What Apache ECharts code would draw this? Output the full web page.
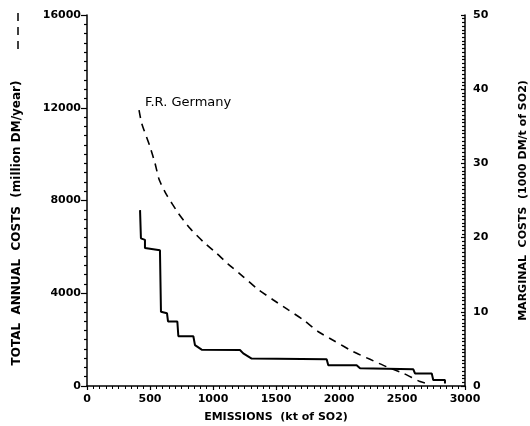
<!DOCTYPE html>
<html>
<head>
<meta charset="utf-8">
<script src="https://cdn.jsdelivr.net/npm/echarts@6/dist/echarts.min.js"></script>
<style>
html, body { margin: 0; padding: 0; background: #fff; }
#main { width: 530px; height: 426px; }
</style>
</head>
<body>
<div id="main"></div>
<script>
// total annual costs (dashed, left axis)
var totalEmissions = [413, 434, 500, 540, 574, 632, 725, 817, 923, 1029, 1120, 1241, 1347, 1479, 1598, 1717, 1836, 1960, 2113, 2246, 2378, 2510, 2643, 2696];
var totalCosts = [11900, 11330, 10320, 9600, 8880, 8240, 7450, 6800, 6220, 5720, 5260, 4710, 4210, 3710, 3280, 2850, 2340, 1950, 1480, 1150, 830, 550, 190, 110];

// marginal costs (solid step, right axis)
var marginalEmissions = [421, 428, 460, 460, 579, 587, 635, 643, 717, 725, 844, 857, 910, 1214, 1240, 1307, 1902, 1915, 2140, 2167, 2590, 2603, 2736, 2748, 2841, 2841];
var marginalCosts = [23.7, 19.9, 19.7, 18.6, 18.3, 10.0, 9.8, 8.7, 8.7, 6.7, 6.7, 5.5, 4.9, 4.85, 4.4, 3.7, 3.6, 2.8, 2.8, 2.4, 2.25, 1.7, 1.7, 0.8, 0.8, 0.35];

var leftTicks = [0, 4000, 8000, 12000, 16000];
var rightTicks = [0, 10, 20, 30, 40, 50];
var xTicks = [0, 500, 1000, 1500, 2000, 2500, 3000];

var font = 'DejaVu Sans';
var plain = function (v) { return String(v); };

var totalData = totalEmissions.map(function (x, i) { return [x, totalCosts[i]]; });
totalData[0] = {
    value: totalData[0],
    label: {
        show: true, formatter: 'F.R. Germany', position: 'right', distance: 6, offset: [0, -7],
        color: '#000', fontFamily: font, fontSize: 13
    }
};
var marginalData = marginalEmissions.map(function (x, i) { return [x, marginalCosts[i]]; });

var chart = echarts.init(document.getElementById('main'));
var option = {
    backgroundColor: '#fff',
    animation: false,
    grid: { left: 87, right: 65, top: 15, bottom: 40, containLabel: false, outerBoundsMode: 'none' },
    xAxis: {
        type: 'value',
        min: xTicks[0], max: xTicks[xTicks.length - 1], interval: 500,
        name: 'EMISSIONS  (kt of SO2)',
        nameLocation: 'middle', nameGap: 26,
        nameTextStyle: { color: '#000', fontFamily: font, fontSize: 11, fontWeight: 'bold' },
        axisLine: { lineStyle: { color: '#000', width: 1.5 } },
        axisTick: { show: true, length: 4, lineStyle: { color: '#000', width: 1.2 } },
        minorTick: { show: true, splitNumber: 10, length: 3, lineStyle: { color: '#000', width: 1 } },
        axisLabel: { color: '#000', fontFamily: font, fontSize: 11, fontWeight: 'bold', margin: 8, formatter: plain },
        splitLine: { show: false }
    },
    yAxis: [{
        type: 'value',
        min: leftTicks[0], max: leftTicks[leftTicks.length - 1], interval: 4000,
        position: 'left',
        axisLine: { show: true, lineStyle: { color: '#000', width: 1.5 } },
        axisTick: { show: true, length: 6, lineStyle: { color: '#000', width: 1.2 } },
        minorTick: { show: true, splitNumber: 10, length: 3, lineStyle: { color: '#000', width: 1.2 } },
        axisLabel: { color: '#000', fontFamily: font, fontSize: 11, fontWeight: 'bold', margin: 6, formatter: plain },
        splitLine: { show: false }
    }, {
        type: 'value',
        min: rightTicks[0], max: rightTicks[rightTicks.length - 1], interval: 10,
        position: 'right',
        name: 'MARGINAL  COSTS  (1000 DM/t of SO2)',
        nameLocation: 'middle', nameGap: 53, nameRotate: 90,
        nameTextStyle: { color: '#000', fontFamily: font, fontSize: 11, fontWeight: 'bold' },
        axisLine: { show: true, lineStyle: { color: '#000', width: 1.5 } },
        axisTick: { show: true, inside: true, length: 4, lineStyle: { color: '#000', width: 1.2 } },
        minorTick: { show: true, splitNumber: 20, length: 3, lineStyle: { color: '#000', width: 1.2 } },
        axisLabel: { color: '#000', fontFamily: font, fontSize: 11, fontWeight: 'bold', margin: 8, formatter: plain },
        splitLine: { show: false }
    }],
    graphic: [{
        type: 'line',
        shape: { x1: 18, y1: 13, x2: 18, y2: 54 },
        style: { stroke: '#000', lineWidth: 1.5, lineDash: [8, 6] }
    }, {
        type: 'text',
        x: 17, y: 223, rotation: Math.PI / 2,
        style: {
            text: 'TOTAL  ANNUAL  COSTS  (million DM/year)',
            align: 'center', verticalAlign: 'middle',
            fill: '#000', font: 'bold 12px "DejaVu Sans"'
        }
    }],
    series: [{
        name: 'Total annual costs',
        type: 'line',
        yAxisIndex: 0,
        data: totalData,
        showSymbol: true,
        symbol: 'circle',
        symbolSize: 0.1,
        smooth: 0.2,
        itemStyle: { color: '#000' },
        lineStyle: { color: '#000', width: 1.6, type: [8, 6] },
        z: 3
    }, {
        name: 'Marginal costs',
        type: 'line',
        yAxisIndex: 1,
        data: marginalData,
        showSymbol: false,
        symbol: 'none',
        lineStyle: { color: '#000', width: 2 },
        z: 4
    }]
};
chart.setOption(option);
</script>
</body>
</html>
